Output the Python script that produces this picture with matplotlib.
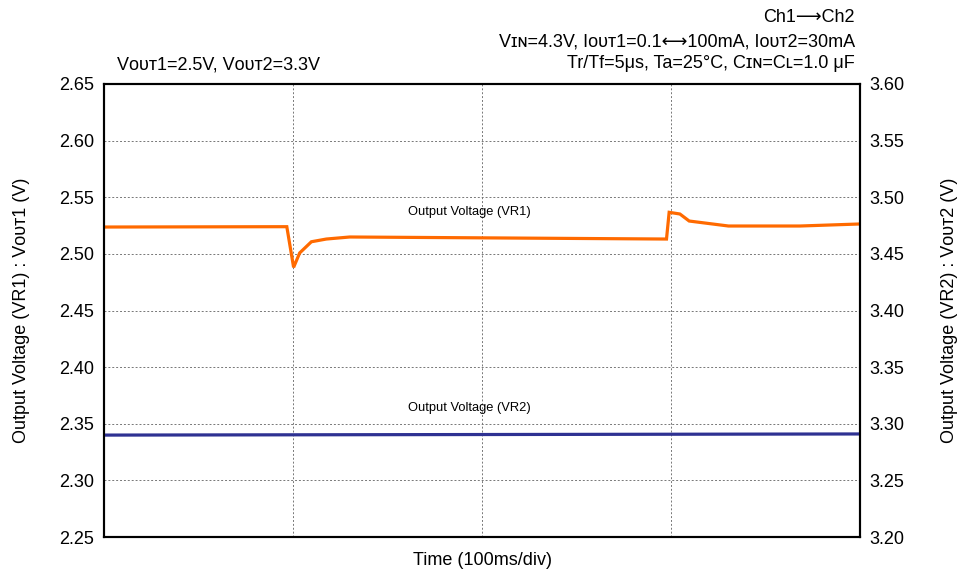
import matplotlib
matplotlib.use("Agg")
import matplotlib.pyplot as plt

plt.rcParams['font.family'] = ['Liberation Sans', 'DejaVu Sans']

# time in ms (100 ms/div, 4 div)
t_vr1 = [0, 96.7, 100.3, 103.5, 109.7, 117.6, 130, 297.6, 299.0, 304.7, 309.6, 330.4, 368.2, 400]
v_vr1 = [2.5237, 2.524, 2.4881, 2.5008, 2.5107, 2.5131, 2.5149, 2.5131, 2.5367, 2.5352, 2.529, 2.5246, 2.5246, 2.5264]

t_vr2 = [0, 200, 400]
v_vr2 = [3.2900, 3.2905, 3.2910]

left_ticks = [2.25, 2.30, 2.35, 2.40, 2.45, 2.50, 2.55, 2.60, 2.65]
right_ticks = [3.20, 3.25, 3.30, 3.35, 3.40, 3.45, 3.50, 3.55, 3.60]

fig = plt.figure(figsize=(9.59, 5.69), dpi=100)
ax = fig.add_axes([0.1085, 0.0562, 0.7883, 0.7962])
ax2 = ax.twinx()

ax.plot(t_vr1, v_vr1, color='#FF6A00', lw=2.3, solid_joinstyle='miter')
ax2.plot(t_vr2, v_vr2, color='#2E3192', lw=2.3)

ax.set_xlim(0, 400)
ax.set_ylim(2.25, 2.65)
ax2.set_ylim(3.20, 3.60)
ax.set_xticks([100, 200, 300])
ax.set_xticklabels([])
ax.set_yticks(left_ticks)
ax.set_yticklabels(['%.2f' % v for v in left_ticks])
ax2.set_yticks(right_ticks)
ax2.set_yticklabels(['%.2f' % v for v in right_ticks])

for a in (ax, ax2):
    a.tick_params(length=0, labelsize=13, pad=7)
    for s in a.spines.values():
        s.set_linewidth(1.5)
ax.tick_params(axis='x', length=0, pad=0)

ax.grid(True, color='#777777', ls=(0, (2, 2)), lw=0.7)
ax.set_axisbelow(True)

ax.set_xlabel('Time (100ms/div)', fontsize=13, labelpad=11)
ax.set_ylabel('Output Voltage (VR1) : Vᴏᴜᴛ1 (V)', fontsize=13, labelpad=21)
ax2.set_ylabel('Output Voltage (VR2) : Vᴏᴜᴛ2 (V)', fontsize=13, labelpad=26, rotation=90)

ax.text(0.483, 0.717, 'Output Voltage (VR1)', transform=ax.transAxes, ha='center', va='center', fontsize=9.3)
ax.text(0.483, 0.285, 'Output Voltage (VR2)', transform=ax.transAxes, ha='center', va='center', fontsize=9.3)

fig.text(117 / 959, 1 - 65 / 569, 'Vᴏᴜᴛ1=2.5V, Vᴏᴜᴛ2=3.3V', ha='left', va='center', fontsize=13)
fig.text(855 / 959, 1 - 18 / 569, 'Ch1⟶Ch2', ha='right', va='center', fontsize=13)
fig.text(855 / 959, 1 - 42 / 569, 'Vɪɴ=4.3V, Iᴏᴜᴛ1=0.1⟷100mA, Iᴏᴜᴛ2=30mA', ha='right', va='center', fontsize=13)
fig.text(855 / 959, 1 - 63 / 569, 'Tr/Tf=5μs, Ta=25°C, Cɪɴ=Cʟ=1.0 μF', ha='right', va='center', fontsize=13)

fig.savefig('out.png', dpi=100)
